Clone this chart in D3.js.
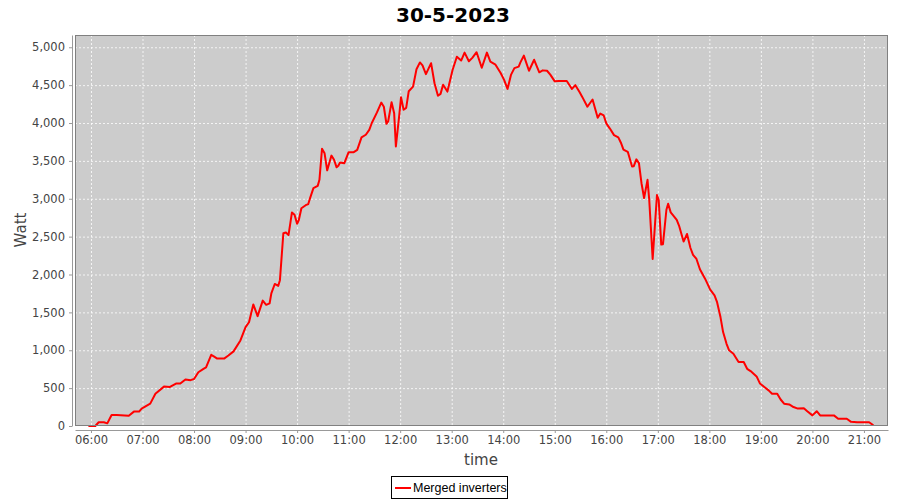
<!DOCTYPE html>
<meta charset="utf-8">
<head>
    <title>30-5-2023</title>
    <style>
        body { margin: 0; background: #fff; }
        text { font-family: "DejaVu Sans", sans-serif; }
        .tick text { fill: #444; font-size: 11.5px; }
        .axis-label { fill: #444; font-size: 15px; }
    </style>
</head>
<script src="https://d3js.org/d3.v7.min.js"></script>
<svg id="chart" width="900" height="500"></svg>

<script>
    // readings of the merged inverters (time of day, watt)
    const times = ["05:57","06:05","06:09","06:15","06:19","06:24","06:30","06:44","06:50","06:56","06:59",
        "07:09","07:15","07:25","07:32","07:39","07:44","07:50","07:56","08:00","08:05","08:11","08:14",
        "08:20","08:23","08:27","08:35","08:40","08:46","08:54","09:00","09:04","09:09","09:14","09:20",
        "09:24","09:28","09:30","09:34","09:38","09:40","09:44","09:47","09:50","09:54","09:57","10:00",
        "10:02","10:05","10:10","10:13","10:15","10:19","10:24","10:26","10:29","10:32","10:35","10:40",
        "10:43","10:46","10:48","10:50","10:55","11:00","11:06","11:10","11:15","11:20","11:24","11:27",
        "11:33","11:38","11:41","11:44","11:46","11:50","11:53","11:55","11:59","12:01","12:04","12:07",
        "12:10","12:15","12:19","12:23","12:26","12:30","12:36","12:40","12:44","12:47","12:50","12:55",
        "13:01","13:06","13:11","13:15","13:20","13:24","13:29","13:35","13:41","13:45","13:51","13:57",
        "14:01","14:05","14:09","14:13","14:18","14:20","14:24","14:30","14:36","14:42","14:46","14:51",
        "14:55","15:00","15:05","15:14","15:20","15:24","15:29","15:32","15:38","15:44","15:50","15:53",
        "15:57","16:00","16:04","16:09","16:14","16:17","16:20","16:25","16:30","16:32","16:35","16:38",
        "16:41","16:44","16:48","16:50","16:54","16:59","17:01","17:04","17:06","17:10","17:12","17:15",
        "17:19","17:22","17:25","17:30","17:34","17:38","17:41","17:45","17:49","17:55","18:01","18:06",
        "18:09","18:13","18:16","18:20","18:23","18:28","18:34","18:40","18:44","18:48","18:55","18:59",
        "19:04","19:09","19:13","19:19","19:23","19:27","19:33","19:38","19:43","19:50","19:54","20:00",
        "20:05","20:09","20:17","20:25","20:30","20:35","20:40","20:45","20:52","21:00","21:06","21:11"];

    const watts = [0,0,50,50,35,145,145,135,190,190,230,
        295,425,520,515,560,560,615,605,620,710,755,775,
        940,920,890,890,930,985,1130,1305,1370,1605,1450,1655,
        1600,1620,1750,1875,1850,1925,2545,2555,2520,2820,2790,2670,
        2720,2875,2915,2930,3005,3140,3170,3250,3660,3600,3375,3570,
        3515,3415,3435,3480,3470,3615,3615,3645,3810,3845,3910,4000,
        4140,4270,4215,3990,4020,4275,4130,3690,4110,4340,4175,4200,
        4420,4480,4710,4800,4760,4645,4790,4525,4360,4385,4505,4415,
        4700,4875,4825,4930,4815,4860,4935,4730,4930,4810,4770,4660,
        4570,4450,4635,4725,4745,4800,4890,4690,4835,4670,4695,4690,
        4635,4550,4555,4555,4450,4500,4405,4345,4215,4310,4070,4125,
        4100,3995,3930,3840,3810,3740,3650,3620,3425,3430,3520,3470,
        3205,3010,3250,2985,2205,3050,2985,2395,2400,2855,2935,2820,
        2765,2720,2635,2435,2535,2350,2260,2205,2070,1945,1800,1725,
        1635,1435,1240,1085,1000,955,845,845,755,725,655,560,
        515,470,425,425,350,295,285,250,230,235,195,140,
        195,140,140,140,95,95,95,55,50,50,50,10];

    const yTicks = [0, 500, 1000, 1500, 2000, 2500, 3000, 3500, 4000, 4500, 5000];
    const title = "30-5-2023";
    const seriesName = "Merged inverters";

    const svg = d3.select("#chart");
    const parse = d3.timeParse("%H:%M:%S");
    const data = times.map((t, i) => ({ t: parse(t + ":00"), v: watts[i] }));

    // plot area
    const plotLeft = 75, plotRight = 888, plotTop = 35, plotBottom = 426;

    const x = d3.scaleTime()
        .domain([parse("05:41:24"), parse("21:28:00")])
        .range([plotLeft, plotRight]);

    const y = d3.scaleLinear()
        .domain([0, 5162])
        .range([plotBottom, plotTop]);

    svg.append("rect")
        .attr("width", 900).attr("height", 500)
        .attr("fill", "#fff");

    // title
    svg.append("text")
        .attr("x", 453)
        .attr("y", 22)
        .attr("text-anchor", "middle")
        .style("font-size", "20px")
        .style("font-weight", "bold")
        .style("fill", "#000")
        .text(title);

    // background of the plot
    svg.append("rect")
        .attr("x", plotLeft).attr("y", plotTop)
        .attr("width", plotRight - plotLeft).attr("height", plotBottom - plotTop)
        .attr("fill", "#cccccc");

    // grid lines
    const hours = d3.timeHour.every(1).range(x.domain()[0], x.domain()[1]);
    svg.append("g")
        .selectAll("line")
        .data(hours)
        .join("line")
        .attr("x1", d => x(d) + 0.5).attr("x2", d => x(d) + 0.5)
        .attr("y1", plotTop).attr("y2", plotBottom)
        .attr("stroke", "#fff")
        .attr("stroke-width", 0.8)
        .attr("stroke-dasharray", "2,2");

    svg.append("g")
        .selectAll("line")
        .data(yTicks)
        .join("line")
        .attr("x1", plotLeft).attr("x2", plotRight)
        .attr("y1", d => y(d) + 0.5).attr("y2", d => y(d) + 0.5)
        .attr("stroke", "#fff")
        .attr("stroke-width", 0.8)
        .attr("stroke-dasharray", "2,2");

    // the line
    const line = d3.line()
        .x(d => x(d.t))
        .y(d => y(d.v));

    svg.append("path")
        .datum(data)
        .attr("d", line)
        .attr("fill", "none")
        .attr("stroke", "#ff0000")
        .attr("stroke-width", 2)
        .attr("stroke-linejoin", "round");

    // outline
    svg.append("rect")
        .attr("x", plotLeft + 0.5).attr("y", plotTop + 0.5)
        .attr("width", plotRight - plotLeft - 1).attr("height", plotBottom - plotTop - 1)
        .attr("fill", "none")
        .attr("stroke", "#808080");

    // axes
    svg.append("g")
        .attr("transform", `translate(0,${plotBottom + 4})`)
        .call(d3.axisBottom(x)
            .ticks(d3.timeHour.every(1))
            .tickFormat(d3.timeFormat("%H:%M"))
            .tickSizeInner(3)
            .tickSizeOuter(0)
            .tickPadding(3));

    svg.append("g")
        .attr("transform", `translate(${plotLeft - 3},0)`)
        .call(d3.axisLeft(y)
            .tickValues(yTicks)
            .tickFormat(d3.format(","))
            .tickSizeInner(3)
            .tickSizeOuter(0)
            .tickPadding(4));

    svg.selectAll(".domain").attr("stroke", "#999");
    svg.selectAll(".tick line").attr("stroke", "#999");

    svg.append("text")
        .attr("class", "axis-label")
        .attr("x", 481)
        .attr("y", 465)
        .attr("text-anchor", "middle")
        .text("time");

    svg.append("text")
        .attr("class", "axis-label")
        .attr("transform", "translate(26,230) rotate(-90)")
        .attr("text-anchor", "middle")
        .text("Watt");

    // legend
    const legend = svg.append("g");
    legend.append("rect")
        .attr("x", 391.5).attr("y", 476.5)
        .attr("width", 116).attr("height", 22)
        .attr("fill", "#fff")
        .attr("stroke", "#000");
    legend.append("line")
        .attr("x1", 395).attr("x2", 411)
        .attr("y1", 488).attr("y2", 488)
        .attr("stroke", "#ff0000")
        .attr("stroke-width", 2);
    legend.append("text")
        .attr("x", 413)
        .attr("y", 492)
        .style("font-family", "'Liberation Sans', sans-serif")
        .style("font-size", "12.5px")
        .style("fill", "#000")
        .text(seriesName);
</script>
